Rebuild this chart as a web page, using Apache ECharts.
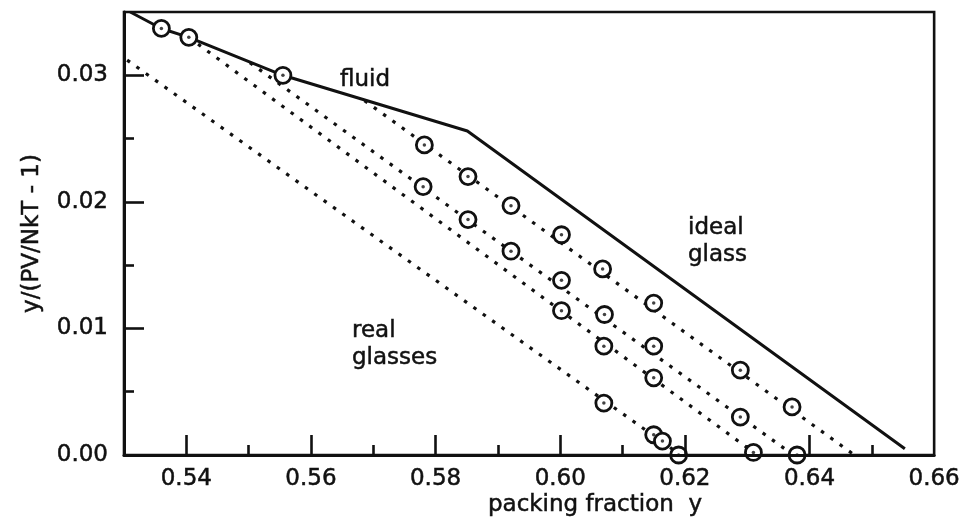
<!DOCTYPE html>
<html>
<head>
<meta charset="utf-8">
<script src="https://cdn.jsdelivr.net/npm/echarts@6/dist/echarts.min.js"></script>
<style>
  html, body { margin: 0; padding: 0; background: #fff; }
  #chart { width: 963px; height: 526px; }
</style>
</head>
<body>
<div id="chart"></div>
<script>
// Solid boundary: fluid branch, kink, then ideal-glass branch
const boundaryX = [0.5310, 0.5360, 0.5404, 0.5555, 0.5851, 0.6553];
const boundaryY = [0.0350, 0.0337, 0.0330, 0.0300, 0.0256, 0.0005];

// Dotted real-glass lines (start and end of each)
const glassLine1X = [0.5686, 0.6472]; const glassLine1Y = [0.0280, 0.0000];
const glassLine2X = [0.5502, 0.6374]; const glassLine2Y = [0.0310, 0.0000];
const glassLine3X = [0.5404, 0.6316]; const glassLine3Y = [0.0330, 0.0000];
const glassLine4X = [0.5305, 0.6193]; const glassLine4Y = [0.0312, 0.0000];

// Simulation points
const fluidPtsX = [0.5360, 0.5404, 0.5555];
const fluidPtsY = [0.0337, 0.0330, 0.0300];
const run1X = [0.5782, 0.5852, 0.5921, 0.6002, 0.6068, 0.6150, 0.6289, 0.6372];
const run1Y = [0.0245, 0.0220, 0.0197, 0.0174, 0.0147, 0.0120, 0.0067, 0.0038];
const run2X = [0.5780, 0.5852, 0.5921, 0.6002, 0.6071, 0.6150, 0.6289, 0.6380];
const run2Y = [0.0212, 0.0186, 0.0161, 0.0138, 0.0111, 0.0086, 0.0030, 0.0000];
const run3X = [0.6002, 0.6070, 0.6150, 0.6310];
const run3Y = [0.0114, 0.0086, 0.0061, 0.0002];
const run4X = [0.6070, 0.6150, 0.6164, 0.6190];
const run4Y = [0.0041, 0.0016, 0.0011, 0.0000];

// Axis ticks
const xLabelTicks = [0.54, 0.56, 0.58, 0.60, 0.62, 0.64, 0.66];
const xMajorTicks = [0.54, 0.56, 0.58, 0.60, 0.62, 0.64];
const xMinorTicks = [0.55, 0.57, 0.59, 0.61, 0.63, 0.65];
const yMajorTicks = [0.00, 0.01, 0.02, 0.03];
const yMinorTicks = [0.005, 0.015, 0.025];

const zip = (xs, ys) => xs.map((x, i) => [x, ys[i]]);
const allPts = [].concat(
  zip(fluidPtsX, fluidPtsY), zip(run1X, run1Y), zip(run2X, run2Y),
  zip(run3X, run3Y), zip(run4X, run4Y)
);

const INK = '#111';
const FONT = '"DejaVu Sans", sans-serif';
const inkText = { color: INK, fontFamily: FONT, fontSize: 23, textBorderColor: INK, textBorderWidth: 0.5 };

function dotted(xs, ys) {
  return {
    type: 'line', data: zip(xs, ys), symbol: 'none', silent: true, z: 2,
    lineStyle: { color: INK, width: 3.2, type: [3.5, 8], cap: 'butt' }
  };
}

function note(text, x, y, align) {
  return {
    type: 'text', x: x, y: y, z: 10,
    style: { text: text, font: '23px ' + FONT, fill: INK, stroke: INK, lineWidth: 0.5,
             align: align, verticalAlign: 'middle' }
  };
}

const chart = echarts.init(document.getElementById('chart'), null, { renderer: 'canvas' });
chart.setOption({
  animation: false,
  backgroundColor: '#fff',
  grid: {
    left: 124, right: 27, top: 12, bottom: 71,
    show: true, borderColor: INK, borderWidth: 2.6, backgroundColor: 'transparent'
  },
  xAxis: [
    {
      type: 'value', min: 0.53, max: 0.66, interval: 0.01, z: 8,
      axisLine: { show: true, lineStyle: { color: INK, width: 3 } },
      axisTick: { show: true, inside: true, length: 20, customValues: xMajorTicks,
                  lineStyle: { color: INK, width: 2.6 } },
      axisLabel: { show: true, customValues: xLabelTicks, margin: 13,
                   formatter: v => v.toFixed(2), ...inkText },
      splitLine: { show: false }
    },
    {
      type: 'value', min: 0.53, max: 0.66, interval: 0.01, position: 'bottom',
      axisLine: { show: false },
      axisTick: { show: true, inside: true, length: 10, customValues: xMinorTicks,
                  lineStyle: { color: INK, width: 2.6 } },
      axisLabel: { show: false },
      splitLine: { show: false }
    }
  ],
  yAxis: [
    {
      type: 'value', min: 0, max: 0.035, interval: 0.005,
      name: 'y/(PV/NkT - 1)', nameLocation: 'middle', nameGap: 80, nameRotate: 90,
      nameTextStyle: inkText,
      axisLine: { show: true, lineStyle: { color: INK, width: 3 } },
      axisTick: { show: true, inside: true, length: 20, customValues: yMajorTicks,
                  lineStyle: { color: INK, width: 2.6 } },
      axisLabel: { show: true, customValues: yMajorTicks, margin: 16,
                   formatter: v => v.toFixed(2), ...inkText },
      splitLine: { show: false }
    },
    {
      type: 'value', min: 0, max: 0.035, interval: 0.005, position: 'left',
      axisLine: { show: false },
      axisTick: { show: true, inside: true, length: 10, customValues: yMinorTicks,
                  lineStyle: { color: INK, width: 2.6 } },
      axisLabel: { show: false },
      splitLine: { show: false }
    }
  ],
  series: [
    {
      type: 'line', data: zip(boundaryX, boundaryY), symbol: 'none', silent: true, z: 3,
      lineStyle: { color: INK, width: 3 }
    },
    dotted(glassLine1X, glassLine1Y),
    dotted(glassLine2X, glassLine2Y),
    dotted(glassLine3X, glassLine3Y),
    dotted(glassLine4X, glassLine4Y),
    {
      type: 'scatter', data: allPts, symbol: 'circle', symbolSize: 16, z: 5, silent: true,
      itemStyle: { color: '#fff', borderColor: INK, borderWidth: 2.8, opacity: 1 }
    },
    {
      type: 'scatter', data: allPts, symbol: 'circle', symbolSize: 3.5, z: 6, silent: true,
      itemStyle: { color: INK }
    }
  ],
  graphic: [
    note('fluid', 365, 80, 'center'),
    note('ideal', 688, 228, 'left'),
    note('glass', 688, 255, 'left'),
    note('real', 352, 331, 'left'),
    note('glasses', 352, 358, 'left'),
    note('packing fraction  y', 595, 505, 'center')
  ]
});
</script>
</body>
</html>
